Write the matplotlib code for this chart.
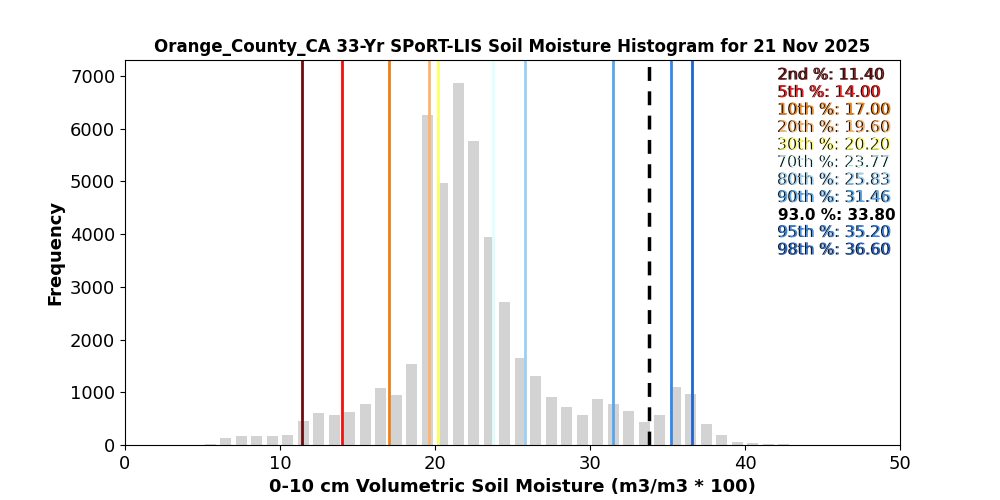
import numpy as np
import matplotlib
matplotlib.use('Agg')
import matplotlib.pyplot as plt
import matplotlib.patheffects as pe

# histograma de humedad del suelo (conteos por bin de 1 unidad)
bin_inicio = 5
conteos = [19, 133, 171, 171, 171, 190, 455, 607, 569, 626, 778, 1081, 949, 1537,
           6260, 4970, 6868, 5767, 3946, 2713, 1650, 1309, 911, 721, 569, 873,
           778, 645, 436, 569, 1100, 968, 398, 190, 57, 38, 19, 15]

etiquetas = ['2nd', '5th', '10th', '20th', '30th', '70th', '80th', '90th', '95th', '98th']
percentiles = [11.40, 14.00, 17.00, 19.60, 20.20, 23.77, 25.83, 31.46, 35.20, 36.60]
colores = ['#6b0d0d', '#ee1111', '#f07f0f', '#ffb36b', '#ffff66',
           '#e0ffff', '#99d0f8', '#55a8f0', '#3388ee', '#2266cc']

valor_actual = 33.80
pct_actual = 93.0

titulo = 'Orange_County_CA 33-Yr SPoRT-LIS Soil Moisture Histogram for 21 Nov 2025'

bordes = np.arange(bin_inicio, bin_inicio + len(conteos) + 1)
centros = bordes[:-1] + 0.5

fig, ax = plt.subplots(figsize=(10, 5), dpi=100)
ax.hist(centros, bins=bordes, weights=conteos, rwidth=0.7, color='lightgray')

for p, c in zip(percentiles, colores):
    ax.axvline(p, color=c, lw=2)
ax.axvline(valor_actual, color='black', lw=2.5, ls='--', dashes=(4, 3))

ax.set_xlim(0, 50)
ax.set_ylim(0, 7300)
ax.set_xlabel('0-10 cm Volumetric Soil Moisture (m3/m3 * 100)', fontsize=13, fontweight='bold')
ax.set_ylabel('Frequency', fontsize=13, fontweight='bold')
ax.set_title(titulo, fontsize=12, fontweight='bold')
ax.tick_params(labelsize=13)

# leyenda de texto: el valor actual va entre 90th y 95th
lineas = []
for e, p, c in zip(etiquetas, percentiles, colores):
    lineas.append((f'{e} %: {p:.2f}', c, 'normal'))
lineas.insert(8, (f'{pct_actual:.1f} %: {valor_actual:.2f}', 'black', 'bold'))

x0 = 0.843
y0 = 0.961
paso = 0.04545
sombra = [pe.withSimplePatchShadow(offset=(-1, 0), shadow_rgbFace='black', alpha=0.9)]
for i, (txt, c, peso) in enumerate(lineas):
    t = ax.text(x0, y0 - i * paso, txt, transform=ax.transAxes,
                fontsize=11.5 if peso == 'normal' else 11,
                color=c, fontweight=peso, va='center', ha='left')
    if peso == 'normal':
        t.set_path_effects(sombra)

fig.savefig('out.png', dpi=100)
